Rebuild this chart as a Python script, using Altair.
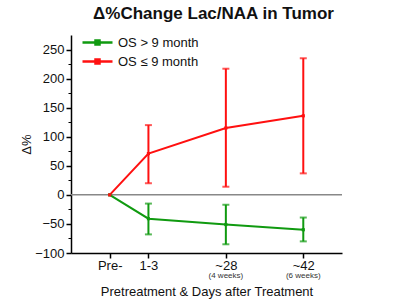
import altair as alt
import pandas as pd

categories = ["Pre-", "1-3", "~28", "~42"]
cat_pos = [0.5, 1, 2, 3]
sub_labels = ["", "", "(4 weeks)", "(6 weeks)"]

series_names = ["OS > 9 month", "OS \u2264 9 month"]
series_colors = ["#109a10", "#ff1010"]

green_mean = [0, -41, -51, -60]
green_lo = [None, -68, -85, -80]
green_hi = [None, -15, -17, -39]

red_mean = [0, 71, 115, 136]
red_lo = [None, 20, 14, 37]
red_hi = [None, 120, 217, 235]

rows = []
for name, means, los, his in [
    (series_names[0], green_mean, green_lo, green_hi),
    (series_names[1], red_mean, red_lo, red_hi),
]:
    for c, p, m, lo, hi in zip(categories, cat_pos, means, los, his):
        rows.append({"series": name, "cat": c, "x": p, "mean": m, "lo": lo, "hi": hi})
df = pd.DataFrame(rows)
err = df.dropna(subset=["lo"])

lab_df = pd.DataFrame({"x": cat_pos, "sub": sub_labels})
lab_df = lab_df[lab_df["sub"] != ""]

label_expr = " : ".join(
    f"datum.value == {p} ? '{c}'" for c, p in zip(categories, cat_pos)
) + " : ''"

FONT = "Liberation Sans"

xscale = alt.Scale(domain=[0, 3.5], nice=False, zero=False)
yscale = alt.Scale(domain=[-100, 275], nice=False, zero=False)
cscale = alt.Scale(domain=series_names, range=series_colors)

color = alt.Color(
    "series:N",
    scale=cscale,
    legend=alt.Legend(
        title=None,
        orient="none",
        legendX=20,
        legendY=1,
        symbolType="M-3,0L3,0M-0.4,-0.4L0.4,-0.4L0.4,0.4L-0.4,0.4Z",
        symbolSize=100,
        symbolStrokeWidth=2.5,
        labelFont=FONT,
        labelFontSize=13,
        labelColor="#111",
        rowPadding=4,
        labelOffset=14,
    ),
)
color_nl = alt.Color("series:N", scale=cscale, legend=None)

xaxis = alt.Axis(
    title="Pretreatment & Days after Treatment",
    values=cat_pos,
    labelExpr=label_expr,
    grid=False,
    domainColor="#000",
    tickColor="#000",
    domainWidth=1.5,
    tickWidth=1.5,
    tickSize=5,
    labelPadding=1,
    labelFont=FONT,
    labelFontSize=13,
    labelColor="#111",
    titleFont=FONT,
    titleFontSize=13,
    titleFontWeight="normal",
    titleColor="#111",
    titlePadding=13,
)

yaxis = alt.Axis(
    title="\u0394%",
    values=[-100, -50, 0, 50, 100, 150, 200, 250],
    grid=False,
    domainColor="#000",
    tickColor="#000",
    domainWidth=1.5,
    tickWidth=1.5,
    tickSize=5,
    labelPadding=2,
    labelFont=FONT,
    labelFontSize=13,
    labelColor="#111",
    titleFont=FONT,
    titleFontSize=13,
    titleFontWeight="normal",
    titleColor="#111",
    titlePadding=1,
    orient="left",
)

yaxis_minor = alt.Axis(
    title=None,
    values=[-75, -25, 25, 75, 125, 175, 225],
    labels=False,
    domain=False,
    grid=False,
    tickColor="#000",
    tickWidth=1,
    tickSize=3,
    orient="left",
)

zero = alt.Chart(pd.DataFrame({"z": [0]})).mark_rule(color="#888", strokeWidth=1.5).encode(
    y=alt.Y("z:Q", scale=yscale, axis=yaxis)
)

minor = alt.Chart(pd.DataFrame({"z": [0]})).mark_rule(opacity=0).encode(
    y=alt.Y("z:Q", scale=yscale, axis=yaxis_minor)
)

base = alt.Chart(df)

lines = base.mark_line(strokeWidth=2).encode(
    x=alt.X("x:Q", scale=xscale, axis=xaxis),
    y=alt.Y("mean:Q", scale=yscale, axis=None),
    color=color,
    detail="series:N",
)

points = base.mark_square(size=10, opacity=1).encode(
    x=alt.X("x:Q", scale=xscale),
    y=alt.Y("mean:Q", scale=yscale, axis=None),
    color=color_nl,
)

ebase = alt.Chart(err)
bars = ebase.mark_rule(strokeWidth=2).encode(
    x=alt.X("x:Q", scale=xscale),
    y=alt.Y("lo:Q", scale=yscale, axis=None),
    y2="hi:Q",
    color=color_nl,
)
cap_lo = ebase.mark_tick(orient="horizontal", size=7, thickness=2).encode(
    x=alt.X("x:Q", scale=xscale),
    y=alt.Y("lo:Q", scale=yscale, axis=None),
    color=color_nl,
)
cap_hi = ebase.mark_tick(orient="horizontal", size=7, thickness=2).encode(
    x=alt.X("x:Q", scale=xscale),
    y=alt.Y("hi:Q", scale=yscale, axis=None),
    color=color_nl,
)

subs = alt.Chart(lab_df).mark_text(
    font=FONT, fontSize=8, color="#333", dy=19, baseline="top"
).encode(
    x=alt.X("x:Q", scale=xscale),
    y=alt.datum(-100, scale=yscale, axis=None),
    text="sub:N",
)

chart = alt.layer(zero, minor, lines, bars, cap_lo, cap_hi, points, subs).resolve_axis(
    y="independent"
).properties(
    width=271,
    height=218,
    title=alt.TitleParams(
        "\u0394%Change Lac/NAA in Tumor",
        font=FONT,
        fontSize=17,
        fontWeight="bold",
        color="#111",
        anchor="middle",
        dx=7,
        offset=12,
    ),
    padding={"left": 71, "top": 35, "right": 58, "bottom": 53},
    autosize=alt.AutoSizeParams(type="none"),
).configure_view(stroke=None)

chart.save("out.html", embed_options={"renderer": "svg", "actions": False})
